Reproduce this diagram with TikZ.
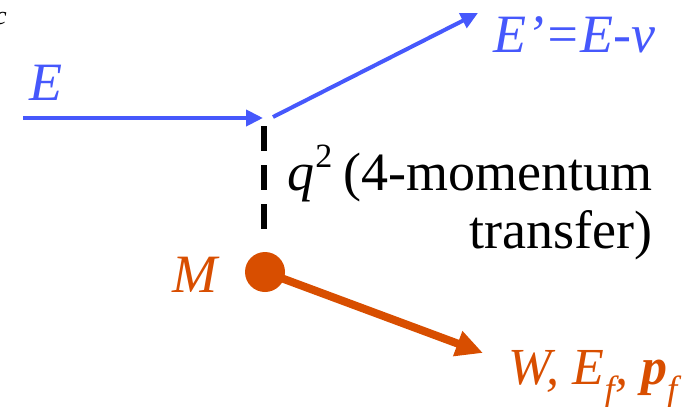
\documentclass[tikz,border=0pt]{standalone}
\usepackage{fontspec}
\setmainfont{Liberation Serif}
\usetikzlibrary{arrows.meta}
\definecolor{eblue}{RGB}{70,88,252}
\definecolor{horange}{RGB}{216,78,0}
\tikzset{
  big/.style={font=\fontsize{54}{54}\selectfont, inner sep=0pt},
  lab/.style={font=\fontsize{54}{54}\selectfont\itshape, inner sep=0pt},
  lepton/.style={draw=eblue, line width=4pt, -{Triangle[length=17pt,width=16pt]}},
  hadron/.style={draw=horange, line width=8pt, -{Triangle[length=27pt,width=25pt]}},
  photon/.style={draw=black, line width=6pt, dash pattern=on 25pt off 14pt},
}
\begin{document}
\begin{tikzpicture}[x=1pt,y=-1pt]
\useasboundingbox (0,0) rectangle (694,407);
\begin{scope}
\clip (0,0) rectangle (694,407);
\node[font=\fontsize{26}{26}\selectfont\itshape, inner sep=0pt, anchor=base] (cut) at (1,24) {c};
\end{scope}
\coordinate (inS) at (23,118);
\coordinate (inE) at (263,118);
\coordinate (outS) at (273,117);
\coordinate (outE) at (478,13);
\coordinate (dashS) at (264,126);
\coordinate (dashE) at (264,233);
\node[circle, fill=horange, minimum size=40pt, inner sep=0pt] (M) at (265,272) {};
\coordinate (Wend) at (483,353);
\draw[lepton] (inS) -- (inE);
\draw[lepton] (outS) -- (outE);
\draw[photon] (dashS) -- (dashE);
\draw[hadron] (M.center) -- (Wend);
\node[lab, text=eblue, anchor=base west] (Elab) at (29,100) {E};
\node[lab, text=eblue, anchor=base west] (Eplab) at (493,52) {E’=E-ν};
\node[big, anchor=base east] (q1) at (653,190) {\textit{q}\kern1pt\raisebox{0.42em}{\fontsize{34}{34}\selectfont 2}\kern-2pt{} (4-momentum};
\node[big, anchor=base east] (q2) at (653,248) {transfer)};
\node[lab, text=horange, anchor=base] (Mlab) at (195,292) {M};
\node[lab, text=horange, font=\fontsize{52}{52}\selectfont\itshape, anchor=base west] (Wlab) at (508,384) {W, E\textsubscript{\textit{f}}, \textbf{p}\textsubscript{\textit{f}}};
\end{tikzpicture}
\end{document}
